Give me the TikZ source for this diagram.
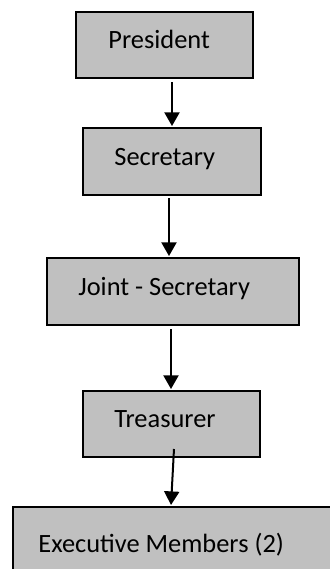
\documentclass[tikz,border=0pt]{standalone}
\usepackage{fontspec}
\setmainfont{Carlito}
\usetikzlibrary{arrows.meta}
\begin{document}
\begin{tikzpicture}[x=0.5pt,y=-0.5pt,
  box/.style={draw=black,line width=0.8pt,fill=boxgray},
  lbl/.style={anchor=base west,inner sep=0pt,font=\fontsize{13.2pt}{15pt}\selectfont},
  arr/.style={line width=1pt,-{Triangle[width=7.5pt,length=6.8pt]}}]
\definecolor{boxgray}{HTML}{C0C0C0}
\useasboundingbox (0,0) rectangle (330,569);
\clip (0,0) rectangle (330,569);
% boxes
\path[box] (76,12) rectangle (253,78) node[midway] (p) {};
\path[box] (83,128) rectangle (261,195) node[midway] (s) {};
\path[box] (47,258) rectangle (299,325) node[midway] (j) {};
\path[box] (83,391) rectangle (260,457) node[midway] (t) {};
\path[box] (13,507) rectangle (345,590) node[midway] (e) {};
% labels
\node[lbl] (pl) at (108,48) {President};
\node[lbl] (sl) at (114,165) {Secretary};
\node[lbl] (jl) at (78,295) {Joint - Secretary};
\node[lbl] (tl) at (114,427) {Treasurer};
\node[lbl] (el) at (38,552) {Executive Members (2)};
% connector endpoints
\coordinate (a1s) at (172,82);  \coordinate (a1e) at (172,126);
\coordinate (a2s) at (169,198); \coordinate (a2e) at (169,256);
\coordinate (a3s) at (171,329); \coordinate (a3e) at (171,389);
\coordinate (a4s) at (174,449); \coordinate (a4e) at (171,505);
\draw[arr] (a1s) -- (a1e);
\draw[arr] (a2s) -- (a2e);
\draw[arr] (a3s) -- (a3e);
\draw[arr] (a4s) -- (a4e);
\end{tikzpicture}
\end{document}
